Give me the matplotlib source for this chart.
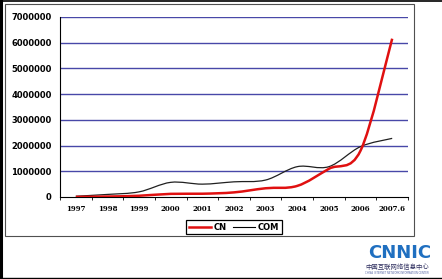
import numpy as np
import matplotlib
matplotlib.use("Agg")
import matplotlib.pyplot as plt
from matplotlib.path import Path
from matplotlib.patches import PathPatch, Rectangle
from matplotlib.lines import Line2D

# data (domain counts per period)
anos = ["1997", "1998", "1999", "2000", "2001", "2002", "2003",
        "2004", "2005", "2006", "2007.6"]
cn = [4066, 18396, 48695, 122099, 127319, 179544, 340040,
      432077, 1096924, 1803393, 6156664]
com = [30000, 100000, 200000, 570000, 500000, 590000, 660000,
       1180000, 1180000, 1960000, 2280000]
yticks = [0, 1000000, 2000000, 3000000, 4000000, 5000000, 6000000, 7000000]


def suave(x, y):
    # curva suavizada estilo Excel (Catmull-Rom -> Bezier)
    x = np.asarray(x, float)
    y = np.asarray(y, float)
    n = len(x)
    verts = [(x[0], y[0])]
    codes = [Path.MOVETO]
    for i in range(n - 1):
        a = max(i - 1, 0)
        b = min(i + 2, n - 1)
        c1 = (x[i] + (x[i + 1] - x[a]) / 6, y[i] + (y[i + 1] - y[a]) / 6)
        c2 = (x[i + 1] - (x[b] - x[i]) / 6, y[i + 1] - (y[b] - y[i]) / 6)
        verts += [c1, c2, (x[i + 1], y[i + 1])]
        codes += [Path.CURVE4] * 3
    return Path(verts, codes)


fig = plt.figure(figsize=(4.42, 2.79), dpi=100)
ax = fig.add_axes([60 / 442, 1 - 197 / 279, 348 / 442, 180 / 279])

# molduras
fig.patches.append(Rectangle((5 / 442, 1 - 236 / 279), 409 / 442, 232 / 279,
                             transform=fig.transFigure, fill=False,
                             edgecolor="#505050", lw=0.8))
fig.add_artist(Line2D([0.002, 0.002], [0, 1], color="black", lw=2.2))
fig.add_artist(Line2D([0, 1], [0.998, 0.998], color="black", lw=1.2))
fig.add_artist(Line2D([0, 1], [0.003, 0.003], color="black", lw=1.0))

xs = np.arange(len(anos))
ax.add_patch(PathPatch(suave(xs, com), fill=False, edgecolor="#202020", lw=0.9, zorder=3))
ax.add_patch(PathPatch(suave(xs, cn), fill=False, edgecolor="#e01010", lw=1.8, zorder=4))

ax.set_xlim(-0.5, len(anos) - 0.5)
ax.set_ylim(0, 7000000)
ax.set_yticks(yticks)
ax.set_yticklabels([str(v) for v in yticks], fontsize=6, fontweight="bold")
ax.tick_params(axis="y", length=0, pad=6)
ax.set_xticks(xs)
ax.set_xticklabels(anos, fontsize=5, fontweight="bold", family="DejaVu Serif")
ax.set_xticks(np.arange(-0.5, len(anos)), minor=True)
ax.tick_params(axis="x", which="major", length=0, pad=6)
ax.tick_params(axis="x", which="minor", length=2.5, direction="out", width=0.6)

for v in yticks[1:]:
    ax.axhline(v, color="#4848a8", lw=1.0, zorder=1)
for s in ["right"]:
    ax.spines[s].set_visible(False)
ax.spines["top"].set_visible(False)
ax.spines["left"].set_linewidth(0.8)
ax.spines["bottom"].set_linewidth(0.8)

h1 = Line2D([], [], color="#e01010", lw=1.8)
h2 = Line2D([], [], color="black", lw=0.8)
leg = fig.legend([h1, h2], ["CN", "COM"], loc="center",
                 bbox_to_anchor=(234 / 442, 1 - 227 / 279), ncol=2,
                 fancybox=False, edgecolor="black", framealpha=1,
                 prop={"size": 6, "weight": "bold"}, handlelength=2.6,
                 handletextpad=0.3, columnspacing=0.8, borderpad=0.35,
                 borderaxespad=0)
leg.get_frame().set_linewidth(0.9)

# logo
fig.text(400 / 442, 1 - 253 / 279, "CNNIC", ha="center", va="center",
         fontsize=13, fontweight="bold", color="#1f6fc0", family="DejaVu Sans")
fig.text(397 / 442, 1 - 267 / 279, "中国互联网络信息中心", ha="center", va="center",
         fontsize=4.6, color="#303060", family=["Noto Sans CJK SC", "DejaVu Sans"])
fig.text(397 / 442, 1 - 273 / 279, "CHINA INTERNET NETWORK INFORMATION CENTER",
         ha="center", va="center", fontsize=1.8, color="#5060a0")

fig.savefig("out.png", dpi=100, facecolor="white")
